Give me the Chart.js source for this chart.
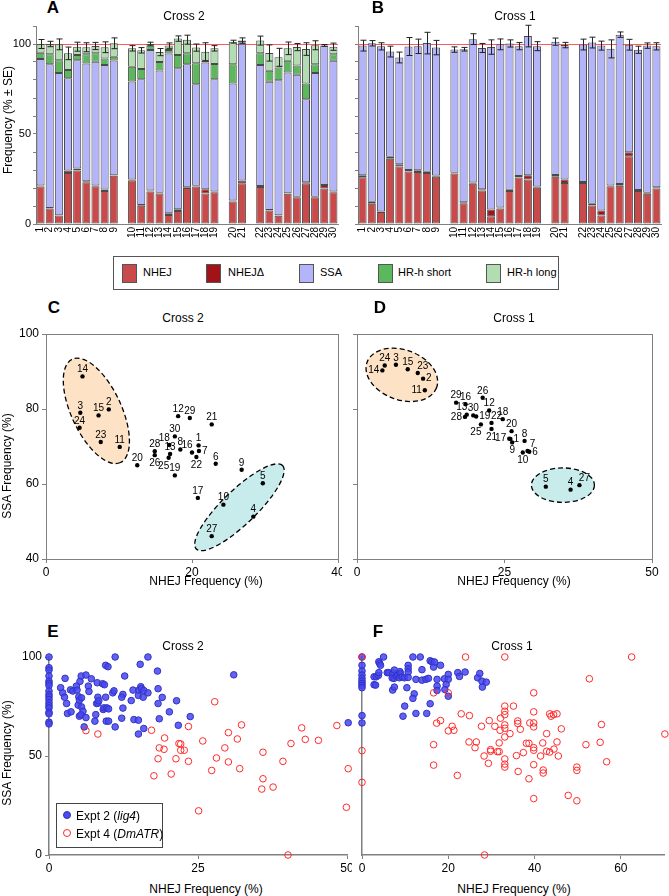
<!DOCTYPE html>
<html>
<head>
<meta charset="utf-8">
<script src="https://cdn.jsdelivr.net/npm/chart.js@4.4.1/dist/chart.umd.min.js"></script>
<style>
  body { margin: 0; background: #fff; width: 669px; height: 896px; position: relative; overflow: hidden;
         font-family: "Liberation Sans", Arial, Helvetica, sans-serif; color: #000; }
  .box { position: absolute; }
  .t { position: absolute; white-space: nowrap; transform: translate(-50%, -50%); font-size: 12px; }
  .t.big { font-weight: bold; font-size: 17px; }
  .t.rot { transform: translate(-50%, -50%) rotate(-90deg); }
  #legend { position: absolute; left: 113px; top: 256px; width: 444px; height: 32px; border: 1px solid #555; font-size: 11px; }
  #legend .sw { position: absolute; top: 7px; width: 13px; height: 17px; border: 1px solid #555; }
  #legend .lb { position: absolute; top: 9px; }
  #legendE { position: absolute; left: 56px; top: 803px; width: 105px; height: 43px; border: 1px solid #444; background: #fff; font-size: 12px; }
  #legendE .row { position: absolute; left: 6px; white-space: nowrap; }
  #legendE .dot { display: inline-block; width: 6px; height: 6px; border-radius: 50%; margin-right: 5px; vertical-align: 1px; }
</style>
</head>
<body>

<div class="box" style="left:0;top:20px"><canvas id="chartA" width="340" height="226"></canvas></div>
<div class="box" style="left:330px;top:20px"><canvas id="chartB" width="339" height="226"></canvas></div>
<div class="box" style="left:0;top:325px"><canvas id="chartC" width="342" height="252"></canvas></div>
<div class="box" style="left:340px;top:325px"><canvas id="chartD" width="320" height="252"></canvas></div>
<div class="box" style="left:0;top:645px"><canvas id="chartE" width="352" height="228"></canvas></div>
<div class="box" style="left:352px;top:645px"><canvas id="chartF" width="317" height="228"></canvas></div>

<div id="legend">
  <div class="sw" style="left:8px;background:#c94a4a"></div><div class="lb" style="left:29px">NHEJ</div>
  <div class="sw" style="left:92px;background:#a11318"></div><div class="lb" style="left:114px">NHEJΔ</div>
  <div class="sw" style="left:185px;background:#b4b4fa"></div><div class="lb" style="left:206px">SSA</div>
  <div class="sw" style="left:264px;background:#5cb85c"></div><div class="lb" style="left:284px">HR-h short</div>
  <div class="sw" style="left:372px;background:#b2ddb2"></div><div class="lb" style="left:393px">HR-h long</div>
</div>

<div id="legendE">
  <div class="row" style="top:5px"><span class="dot" style="background:#4a4af0;border:1px solid #3030c0"></span>Expt 2 (<i>lig4</i>)</div>
  <div class="row" style="top:23px"><span class="dot" style="border:1px solid #ff2a2a"></span>Expt 4 (<i>DmATR</i>)</div>
</div>

<script>
// line numbers on the x axis of A and B, and where the groups break
const lineIds = ['1','2','3','4','5','6','7','8','9','10','11','12','13','14','15',
                 '16','17','18','19','20','21','22','23','24','25','26','27','28','29','30'];
const groupBreaks = ['9', '19', '21'];

// Cross 2 (panels A and C), % per line
const nhej2   = [20.9, 8.6, 4.7, 28.4, 29.7, 23.25, 20.95, 18.4, 26.8, 24.3, 10.1, 18.1, 17.0, 5.0, 7.2,
                 20.0, 20.8, 16.9, 17.65, 12.5, 22.7, 20.6, 7.5, 4.6, 16.8, 14.9, 22.7, 14.9, 19.7, 17.65];
const nhejD2  = [0.5, 0.3, 0.2, 1.3, 1.1, 0.5, 0.4, 0.8, 0.3, 0.4, 0.4, 0.5, 0.3, 1.0, 1.0,
                 0.4, 0.5, 2.4, 0.4, 0.6, 1.5, 0.5, 0.3, 0.2, 0.3, 0.3, 0.5, 0.3, 1.9, 0.4];
const ssa2    = [70.3, 79.9, 79.0, 51.3, 60.2, 65.4, 68.8, 69.2, 63.8, 54.5, 69.9, 78.1, 68.0, 88.7, 78.3,
                 68.4, 56.3, 70.4, 62.3, 65.0, 75.9, 67.2, 71.2, 75.0, 67.0, 67.7, 46.1, 68.75, 77.6, 72.7];
const hrShort2 = [3.5, 5.5, 7.1, 4.6, 2.9, 5.15, 4.65, 3.5, 2.0, 8.2, 5.7, 2.4, 4.7, 2.0, 7.4,
                  6.0, 11.7, 1.0, 8.55, 10.6, 0.8, 6.5, 6.2, 7.1, 6.6, 5.1, 8.8, 4.75, 0, 3.55];
const hrLong2  = [4.8, 5.7, 8.8, 9.2, 4.6, 3.9, 4.1, 6.3, 7.5, 10.2, 10.4, 0.9, 5.5, 2.4, 9.1,
                  7.6, 8.7, 5.0, 8.7, 12.6, 1.0, 7.1, 9.8, 5.7, 6.9, 10.3, 19.1, 10.6, 0, 4.2];
const se2     = [2.5, 1.5, 3, 3.5, 2.5, 2.5, 2, 3, 3, 1.5, 1.5, 1, 2, 1.5, 1.5,
                 2.5, 2, 5, 1.5, 0.8, 1.5, 2.5, 4.5, 5, 3.5, 2, 3.5, 2.5, 0.5, 2];

// Cross 1 (panels B and D)
const nhej1  = [26.0, 11.2, 6.6, 36.2, 32.0, 29.2, 28.9, 28.4, 26.3, 28.1, 11.5, 22.4, 18.6, 4.3, 8.6,
                18.4, 25.8, 24.7, 20.2, 26.2, 22.8, 22.8, 10.3, 4.7, 21.0, 21.3, 37.7, 18.3, 16.8, 19.7];
const nhejD1 = [1.1, 1.1, 0.3, 1.1, 1.2, 0.8, 1.0, 0.6, 0.6, 0.4, 0.6, 0.7, 0.7, 3.7, 0.6,
                0.6, 0.9, 2.4, 0.6, 1.0, 1.9, 0.6, 0.9, 2.8, 0.4, 0.9, 2.2, 0.6, 0.6, 0.7];
const ssa1   = [72.0, 88.1, 91.8, 58.5, 59.3, 68.6, 68.8, 71.5, 71.1, 68.4, 85.0, 79.6, 78.5, 90.3, 90.6,
                81.3, 72.1, 77.3, 78.0, 74.1, 74.7, 76.3, 89.6, 91.6, 75.9, 83.0, 59.7, 77.9, 81.7, 78.3];
const se1    = [3, 1.5, 2, 3, 3, 5, 4, 6, 4, 1.5, 1, 3, 2.5, 4, 3,
                2, 2, 6, 2.5, 2, 1.5, 3, 3, 2.5, 5, 1.5, 3, 2, 1.5, 2];

// where each line number sits next to its dot in C and D
const labelPlaceC = ['a','a','a','a','a','a','r','a','a','a','a','a','a','a','a',
                     'al','a','al','a','a','a','b','a','a','bl','b','a','a','a','a'];
const labelPlaceD = ['r','r','a','a','a','r','ar','a','b','b','l','a','al','l','a',
                     'a','l','a','r','a','b','ar','ar','a','bl','a','ar','l','a','a'];

// E: Cross 2, [NHEJ, SSA] per fly
const crossTwoLig4 = [[0,100],[0,94.6],[0,93.4],[0,90.4],[0,87.8],[0,86.7],[0,85.6],[0,82.8],[0,81.1],[0,79.9],
  [0,78.5],[0,76.9],[0,75.5],[0,74.3],[0,72.1],[0,71.3],[0,67.1],[0,66.2],
  [1.95,84.5],[2.3,81.9],[2.7,89.2],[2.6,79.7],[2.95,76.5],[3.1,71.5],[3.6,83.4],[3.7,72.3],[4.0,82.8],[4.6,85.3],
  [4.7,83.3],[4.9,75.7],[5.0,79.9],[5.1,78.2],[5.1,70.1],[5.2,87.7],[5.4,90.4],[5.45,79.4],[5.45,74.8],[5.7,72.6],
  [5.35,70.8],[5.9,64.7],[6.2,90.9],[6.2,69.4],[6.6,85.3],[6.7,82.6],[7.1,89.0],[7.85,70.9],[8.0,76.5],[8.1,87.0],
  [8.2,79.7],[8.2,76.7],[7.7,67.6],[8.35,77.9],[9.0,86.5],[9.1,73.5],[9.2,74.3],[9.3,86.0],[9.5,95.8],[9.7,74.3],
  [9.5,79.7],[9.6,67.6],[9.9,95.1],[10.0,67.6],[10.0,73.8],[10.7,81.9],[10.9,82.9],[11.1,100],[11.1,64.7],[12.2,69.1],
  [12.4,81.1],[12.2,79.7],[12.4,74.2],[12.7,90.4],[13.8,78.0],[14.1,83.3],[14.25,68.4],[15.0,68.1],[15.0,80.6],
  [15.1,83.3],[15.4,85.0],[15.5,84.0],[15.3,96.3],[15.8,79.7],[15.9,83.1],[15.9,63.9],[15.0,61.1],[16.6,100],
  [16.6,81.9],[18.2,92.9],[18.3,84.0],[18.3,76.5],[18.5,68.8],[19.0,79.6],[20.2,72.3],[21.4,77.9],[21.7,65.5],
  [23.7,69.9],[31.0,91.0],[50.2,66.8]];
const crossTwoDmATR = [[6.2,62.8],[8.2,61.1],[17.2,63.0],[17.6,40.0],[18.3,48.6],[18.5,54.1],[19.3,53.4],[19.4,59.1],
  [20.5,40.9],[21.3,48.6],[21.8,56.3],[22.1,56.1],[22.1,52.9],[22.7,52.9],[23.4,64.9],[23.4,47.3],[25.1,22.3],
  [25.8,57.6],[27.3,42.7],[27.8,77.4],[28.1,49.0],[29.5,54.1],[30.1,61.8],[30.1,47.0],[31.6,58.6],[32.0,43.6],
  [32.3,65.7],[35.9,51.9],[35.9,38.5],[35.7,33.3],[37.6,34.3],[39.25,47.3],[40.1,0],[40.6,56.3],[42.4,64.2],
  [43.0,58.4],[45.2,57.9],[48.3,65.4],[50.2,43.6],[49.9,24.1]];

// F: Cross 1
const crossOneLig4 = [[0,100],[0,95.8],[0,92.9],[0,90.9],[0,89.2],[0,87.8],[0,86.7],[0,85.6],[0,84.5],[0,70.4],[0,66.7],
  [2.8,90.0],[3.3,90.0],[3.8,90.7],[2.8,86.0],[3.15,85.8],[3.9,97.6],[4.1,96.8],[4.3,95.8],[5.0,100],[3.9,92.1],
  [5.85,92.1],[6.2,92.1],[7.0,89.4],[7.15,91.9],[7.5,93.4],[7.4,89.2],[7.9,90.4],[8.3,90.9],[8.8,92.6],[8.9,91.6],
  [8.7,89.5],[9.3,89.9],[9.85,89.5],[10.7,95.8],[10.7,94.1],[10.7,92.4],[10.7,89.7],[11.8,100],[13.9,93.6],
  [13.5,100],[12.5,88.7],[13.9,88.3],[14.8,88.7],[15.4,89.2],[15.8,98.1],[16.2,97.6],[16.6,94.9],[16.8,97.5],
  [18.2,95.8],[17.4,88.7],[19.1,89.0],[20.0,91.2],[20.0,88.7],[19.5,86.1],[22.2,92.1],[22.6,90.2],[23.9,92.4],
  [26.8,89.5],[27.3,91.7],[27.8,87.8],[28.8,87.3],[27.9,84.8],[17.4,85.3],[17.4,83.1],[19.2,83.6],[20.0,80.2],
  [12.1,81.4],[11.8,79.1],[10.4,84.5],[7.1,83.3],[7.5,84.8],[9.9,75.2],[9.5,70.1],[12.5,71.5],[15.0,71.5],[15.8,76.4]];
const crossOneDmATR = [[0,100],[0,52.7],[0,36.7],[24.0,100],[33.1,100],[62.5,100],[52.7,89.0],[16.6,81.9],[20.0,81.9],
  [39.8,81.9],[33.1,75.2],[35.1,75.2],[33.1,72.6],[33.1,70.9],[32.1,69.1],[23.0,71.3],[24.9,70.4],[18.2,67.9],
  [17.3,66.6],[20.9,65.0],[20.0,62.7],[21.3,63.0],[27.7,65.0],[29.5,67.9],[30.8,65.0],[33.1,65.7],[33.1,64.0],
  [32.0,63.0],[33.1,59.6],[34.3,61.3],[36.1,67.7],[36.1,66.4],[36.7,63.5],[38.9,66.7],[39.8,66.7],[39.8,64.7],
  [39.8,72.3],[43.5,71.3],[43.8,70.1],[44.4,70.9],[45.2,71.3],[46.2,63.7],[42.8,61.3],[55.5,65.9],[70.2,61.1],
  [16.6,55.7],[16.6,45.4],[24.8,57.1],[26.5,57.1],[26.2,54.2],[28.3,50.0],[29.8,53.2],[29.8,52.4],[29.3,46.3],
  [31.4,52.2],[31.8,52.2],[31.8,56.6],[33.1,48.5],[33.1,45.9],[33.1,44.4],[35.8,50.2],[36.2,42.2],[37.4,51.7],
  [38.1,56.4],[38.7,56.4],[39.8,54.2],[39.8,52.9],[39.8,45.6],[38.7,38.5],[39.8,28.5],[41.4,50.0],[41.9,56.6],
  [42.0,42.9],[42.0,41.4],[42.8,52.4],[43.5,52.0],[44.5,53.5],[45.2,57.1],[45.5,50.0],[47.8,30.1],[49.8,44.4],
  [49.8,42.7],[49.8,27.4],[51.9,55.7],[55.2,56.9],[56.7,47.1],[22.1,40.2],[28.4,0]];

const colors = {
  nhej: '#c94a4a',
  nhejD: '#a11318',
  ssa: '#b4b4fa',
  hrShort: '#5cb85c',
  hrLong: '#b2ddb2',
};

Chart.defaults.font.family = '"Liberation Sans", Arial, Helvetica, sans-serif';
Chart.defaults.color = '#000';
Chart.defaults.animation = false;
Chart.defaults.plugins.legend.display = false;
Chart.defaults.plugins.tooltip.enabled = false;

const axisGrey = '#808080';

// categories with an empty slot between groups
const cats = [];
const catIndex = [];
lineIds.forEach((id, i) => {
  cats.push(id);
  catIndex.push(i);
  if (groupBreaks.includes(id)) {
    cats.push('');
    catIndex.push(-1);
  }
});
const spread = (arr) => catIndex.map((i) => (i < 0 ? null : arr[i]));

function fixY(w) {
  return (s) => { s.width = w; s.paddingTop = 0; s.paddingBottom = 0; };
}
function fixX(h) {
  return (s) => { s.height = h; s.paddingLeft = 0; s.paddingRight = 0; };
}

// red line at 100%
const refLine = {
  id: 'refLine',
  beforeDatasetsDraw(chart) {
    const { ctx, chartArea, scales } = chart;
    const y = Math.round(scales.y.getPixelForValue(100)) + 0.5;
    ctx.save();
    ctx.strokeStyle = '#ff5a5a';
    ctx.lineWidth = 1;
    ctx.beginPath();
    ctx.moveTo(chartArea.left, y);
    ctx.lineTo(chartArea.right, y);
    ctx.stroke();
    ctx.restore();
  },
};

// error bars on top of each stacked bar
function errorBars(se) {
  return {
    id: 'errorBars',
    afterDatasetsDraw(chart) {
      const { ctx, scales } = chart;
      const seCats = spread(se);
      ctx.save();
      ctx.strokeStyle = '#222';
      ctx.lineWidth = 1;
      cats.forEach((c, j) => {
        if (seCats[j] == null) return;
        let total = 0;
        chart.data.datasets.forEach((d) => { total += d.data[j] || 0; });
        const x = Math.round(scales.x.getPixelForValue(j)) + 0.5;
        const top = scales.y.getPixelForValue(total + seCats[j]);
        const bot = scales.y.getPixelForValue(total - seCats[j]);
        ctx.beginPath();
        ctx.moveTo(x, top); ctx.lineTo(x, bot);
        ctx.moveTo(x - 3, top); ctx.lineTo(x + 3, top);
        ctx.moveTo(x - 3, bot); ctx.lineTo(x + 3, bot);
        ctx.stroke();
      });
      ctx.restore();
    },
  };
}

function makeBarChart(id, segments, se, yLabels, yWidth, padRight) {
  const datasets = segments.map((s) => ({
    label: s.label,
    data: spread(s.values),
    backgroundColor: s.color,
    borderColor: '#4a4a4a',
    borderWidth: 1,
    borderSkipped: false,
    barPercentage: 0.88,
    categoryPercentage: 1,
  }));
  return new Chart(document.getElementById(id), {
    type: 'bar',
    data: { labels: cats, datasets },
    options: {
      responsive: false,
      layout: { padding: { top: 6, right: padRight, left: 0, bottom: 0 } },
      scales: {
        x: {
          stacked: true,
          grid: { display: true, drawOnChartArea: false, drawTicks: false },
          border: { color: axisGrey },
          ticks: { autoSkip: false, minRotation: 90, maxRotation: 90, padding: 3, font: { size: 10 } },
          afterFit: fixX(22),
        },
        y: {
          stacked: true,
          min: 0,
          max: 110,
          ticks: {
            stepSize: 10,
            padding: 2,
            autoSkip: false,
            font: { size: 11 },
            callback: (v) => (yLabels && v % 50 === 0 ? v : ''),
          },
          grid: { drawOnChartArea: false, tickLength: 3, color: axisGrey },
          border: { color: axisGrey },
          afterFit: fixY(yWidth),
        },
      },
    },
    plugins: [refLine, errorBars(se)],
  });
}

makeBarChart('chartA', [
  { label: 'NHEJ', values: nhej2, color: colors.nhej },
  { label: 'NHEJΔ', values: nhejD2, color: colors.nhejD },
  { label: 'SSA', values: ssa2, color: colors.ssa },
  { label: 'HR-h short', values: hrShort2, color: colors.hrShort },
  { label: 'HR-h long', values: hrLong2, color: colors.hrLong },
], se2, true, 36, 2);

makeBarChart('chartB', [
  { label: 'NHEJ', values: nhej1, color: colors.nhej },
  { label: 'NHEJΔ', values: nhejD1, color: colors.nhejD },
  { label: 'SSA', values: ssa1, color: colors.ssa },
], se1, false, 28, 8);

// C and D: frame, shaded groups, numbered dots
const frame = {
  id: 'frame',
  beforeDatasetsDraw(chart) {
    const { ctx, chartArea: a } = chart;
    ctx.save();
    ctx.strokeStyle = axisGrey;
    ctx.lineWidth = 1;
    ctx.strokeRect(Math.round(a.left) + 0.5, Math.round(a.top) + 0.5,
      Math.round(a.right - a.left), Math.round(a.bottom - a.top));
    ctx.restore();
  },
};

function groupShapes(shapes) {
  return {
    id: 'groupShapes',
    beforeDatasetsDraw(chart) {
      const { ctx, scales } = chart;
      ctx.save();
      shapes.forEach((s) => {
        const cx = scales.x.getPixelForValue(s.x);
        const cy = scales.y.getPixelForValue(s.y);
        ctx.beginPath();
        ctx.ellipse(cx, cy, s.rx, s.ry, (s.angle * Math.PI) / 180, 0, Math.PI * 2);
        ctx.fillStyle = s.fill;
        ctx.fill();
        ctx.setLineDash([5, 3]);
        ctx.lineWidth = 1.3;
        ctx.strokeStyle = '#000';
        ctx.stroke();
      });
      ctx.restore();
    },
  };
}

function pointLabels(places) {
  return {
    id: 'pointLabels',
    afterDatasetsDraw(chart) {
      const { ctx } = chart;
      const pts = chart.getDatasetMeta(0).data;
      ctx.save();
      ctx.font = '10px "Liberation Sans", Arial, sans-serif';
      ctx.fillStyle = '#000';
      ctx.textBaseline = 'middle';
      pts.forEach((p, i) => {
        const code = places[i];
        let dx = 0, dy = -7, align = 'center';
        if (code === 'b') dy = 8;
        if (code === 'l') { dx = -3; dy = 0; align = 'right'; }
        if (code === 'r') { dx = 3; dy = 0; align = 'left'; }
        if (code === 'al') { dx = -5; }
        if (code === 'ar') { dx = 5; }
        if (code === 'bl') { dx = -5; dy = 8; }
        ctx.textAlign = align;
        ctx.fillText(lineIds[i], p.x + dx, p.y + dy);
      });
      ctx.restore();
    },
  };
}

function makeLineScatter(id, xs, ys, xMax, xStep, yLabels, yWidth, padRight, shapes, places) {
  return new Chart(document.getElementById(id), {
    type: 'scatter',
    data: {
      datasets: [{
        data: xs.map((x, i) => ({ x, y: ys[i] })),
        pointRadius: 2.2,
        backgroundColor: '#000',
        borderWidth: 0,
      }],
    },
    options: {
      responsive: false,
      layout: { padding: { top: 9, right: padRight, left: 0, bottom: 0 } },
      scales: {
        x: {
          min: 0, max: xMax,
          ticks: { stepSize: xStep, padding: 2, autoSkip: false, font: { size: 12 } },
          grid: { drawOnChartArea: false, tickLength: 4, color: axisGrey },
          border: { color: axisGrey },
          afterFit: fixX(18),
        },
        y: {
          min: 40, max: 100,
          ticks: { stepSize: 20, padding: 3, autoSkip: false, font: { size: 12 }, callback: (v) => (yLabels ? v : '') },
          grid: { drawOnChartArea: false, tickLength: 4, color: axisGrey },
          border: { color: axisGrey },
          afterFit: fixY(yWidth),
        },
      },
    },
    plugins: [frame, groupShapes(shapes), pointLabels(places)],
  });
}

const peach = '#fde2c6';
const aqua = '#c8ecec';

makeLineScatter('chartC', nhej2, ssa2, 40, 20, true, 46, 2, [
  { x: 6.9, y: 79.5, rx: 57, ry: 25, angle: 65, fill: peach },
  { x: 26.5, y: 53.8, rx: 60, ry: 17, angle: -44, fill: aqua },
], labelPlaceC);

makeLineScatter('chartD', nhej1, ssa1, 50, 25, false, 17, 8, [
  { x: 7.6, y: 89.1, rx: 37, ry: 25, angle: 20, fill: peach },
  { x: 34.9, y: 59.7, rx: 31.5, ry: 17.2, angle: 0, fill: aqua },
], labelPlaceD);

// E and F: per-fly scatter
function makeFlyScatter(id, lig4, dmatr, xMax, xStep, yLabels, yWidth, padRight) {
  const onStep = (v, step) => Math.abs(v / step - Math.round(v / step)) < 1e-6;
  return new Chart(document.getElementById(id), {
    type: 'scatter',
    data: {
      datasets: [
        {
          label: 'Expt 4 (DmATR)',
          data: dmatr.map((p) => ({ x: p[0], y: p[1] })),
          pointRadius: 3.3,
          backgroundColor: 'rgba(255,255,255,0)',
          borderColor: '#ff2a2a',
          borderWidth: 1,
          clip: false,
        },
        {
          label: 'Expt 2 (lig4)',
          data: lig4.map((p) => ({ x: p[0], y: p[1] })),
          pointRadius: 3.3,
          backgroundColor: 'rgba(70,70,240,0.85)',
          borderColor: '#3232c4',
          borderWidth: 1,
          clip: false,
        },
      ],
    },
    options: {
      responsive: false,
      layout: { padding: { top: 12, right: padRight, left: 0, bottom: 0 } },
      scales: {
        x: {
          min: 0, max: xMax,
          ticks: {
            stepSize: xStep, padding: 2, autoSkip: false, font: { size: 12 },
            callback: (v) => (onStep(v, xStep) ? v : ''),
          },
          grid: {
            drawOnChartArea: false, tickLength: 4,
            color: (c) => (c.tick && !onStep(c.tick.value, xStep) ? 'rgba(0,0,0,0)' : axisGrey),
          },
          border: { color: axisGrey, width: 1.5 },
          afterFit: fixX(18),
        },
        y: {
          min: 0, max: 100,
          ticks: { stepSize: 50, padding: 3, autoSkip: false, font: { size: 12 }, display: yLabels },
          grid: { drawOnChartArea: false, drawTicks: yLabels, tickLength: 4, color: axisGrey },
          border: { color: axisGrey, width: 1.5 },
          afterFit: fixY(yWidth),
        },
      },
    },
  });
}

makeFlyScatter('chartE', crossTwoLig4, crossTwoDmATR, 50, 25, true, 49, 3);
makeFlyScatter('chartF', crossOneLig4, crossOneDmATR, 70, 20, false, 10, 4);

// panel letters, titles and axis titles
const texts = [
  ['A', 53, 8, 'big'], ['Cross 2', 184, 16], ['B', 378, 8, 'big'], ['Cross 1', 515, 16],
  ['Frequency (% ± SE)', 8, 120, 'rot'],
  ['C', 54, 308, 'big'], ['Cross 2', 183, 318], ['D', 380, 308, 'big'], ['Cross 1', 514, 318],
  ['SSA Frequency (%)', 7, 466, 'rot'],
  ['NHEJ Frequency (%)', 206, 581], ['NHEJ Frequency (%)', 514, 581],
  ['E', 53, 632, 'big'], ['Cross 2', 183, 646], ['F', 378, 632, 'big'], ['Cross 1', 512, 646],
  ['SSA Frequency (%)', 7, 753, 'rot'],
  ['NHEJ Frequency (%)', 206, 889], ['NHEJ Frequency (%)', 514, 889],
];
texts.forEach(([txt, x, y, cls]) => {
  const el = document.createElement('div');
  el.className = 't' + (cls ? ' ' + cls : '');
  el.textContent = txt;
  el.style.left = x + 'px';
  el.style.top = y + 'px';
  document.body.appendChild(el);
});
</script>
</body>
</html>
